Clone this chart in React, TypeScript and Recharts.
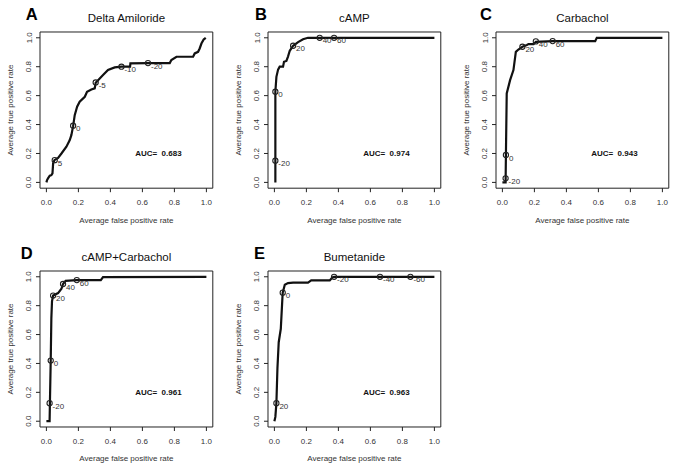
import React from 'react'
import { ComposedChart, Line, XAxis, YAxis, ReferenceArea, LabelList } from 'recharts'

const FONT = '"Liberation Sans", Arial, Helvetica, sans-serif'
const AXIS_TICKS = [0, 0.2, 0.4, 0.6, 0.8, 1.0]
const DOMAIN: [number, number] = [-0.04, 1.04]

// ROC curves (x = false positive rate, y = true positive rate)
const amilorideCurve = [
  { x: 0, y: 0 }, { x: 0.004, y: 0.016 }, { x: 0.01, y: 0.028 }, { x: 0.021, y: 0.046 },
  { x: 0.031, y: 0.05 }, { x: 0.038, y: 0.062 }, { x: 0.042, y: 0.13 }, { x: 0.05, y: 0.154 },
  { x: 0.073, y: 0.17 }, { x: 0.094, y: 0.2 }, { x: 0.125, y: 0.247 }, { x: 0.146, y: 0.293 },
  { x: 0.156, y: 0.327 }, { x: 0.167, y: 0.389 }, { x: 0.177, y: 0.465 }, { x: 0.192, y: 0.523 },
  { x: 0.208, y: 0.558 }, { x: 0.24, y: 0.592 }, { x: 0.254, y: 0.627 }, { x: 0.281, y: 0.643 },
  { x: 0.302, y: 0.65 }, { x: 0.308, y: 0.689 }, { x: 0.323, y: 0.707 }, { x: 0.354, y: 0.742 },
  { x: 0.385, y: 0.777 }, { x: 0.427, y: 0.795 }, { x: 0.469, y: 0.8 }, { x: 0.523, y: 0.8 },
  { x: 0.525, y: 0.823 }, { x: 0.635, y: 0.825 }, { x: 0.771, y: 0.825 }, { x: 0.781, y: 0.846 },
  { x: 0.813, y: 0.869 }, { x: 0.917, y: 0.869 }, { x: 0.927, y: 0.892 }, { x: 0.948, y: 0.903 },
  { x: 0.958, y: 0.926 }, { x: 0.969, y: 0.96 }, { x: 0.983, y: 0.988 }, { x: 0.996, y: 1.0 }
]
const amilorideMarks = [
  { x: 0.052, y: 0.154, t: '5' }, { x: 0.167, y: 0.392, t: '0' }, { x: 0.308, y: 0.691, t: '-5' },
  { x: 0.469, y: 0.8, t: '-10' }, { x: 0.635, y: 0.825, t: '-20' }
]

const campCurve = [
  { x: 0.006, y: 0 }, { x: 0.006, y: 0.627 }, { x: 0.0125, y: 0.73 }, { x: 0.023, y: 0.78 },
  { x: 0.033, y: 0.8 }, { x: 0.054, y: 0.8 }, { x: 0.06, y: 0.834 }, { x: 0.075, y: 0.84 },
  { x: 0.085, y: 0.87 }, { x: 0.096, y: 0.91 }, { x: 0.117, y: 0.945 }, { x: 0.148, y: 0.97 },
  { x: 0.179, y: 0.99 }, { x: 0.21, y: 1.0 }, { x: 1.0, y: 1.0 }
]
const campMarks = [
  { x: 0.006, y: 0.15, t: '-20' }, { x: 0.006, y: 0.627, t: '0' }, { x: 0.117, y: 0.945, t: '20' },
  { x: 0.283, y: 1.0, t: '40' }, { x: 0.373, y: 1.0, t: '60' }
]

const carbacholCurve = [
  { x: 0, y: 0 }, { x: 0.02, y: 0 }, { x: 0.022, y: 0.19 }, { x: 0.027, y: 0.615 },
  { x: 0.048, y: 0.707 }, { x: 0.069, y: 0.777 }, { x: 0.084, y: 0.903 }, { x: 0.1, y: 0.919 },
  { x: 0.125, y: 0.938 }, { x: 0.153, y: 0.95 }, { x: 0.163, y: 0.956 }, { x: 0.195, y: 0.956 },
  { x: 0.209, y: 0.972 }, { x: 0.314, y: 0.977 }, { x: 0.58, y: 0.977 }, { x: 0.59, y: 1.0 },
  { x: 1.0, y: 1.0 }
]
const carbacholMarks = [
  { x: 0.02, y: 0.028, t: '-20' }, { x: 0.022, y: 0.19, t: '0' }, { x: 0.125, y: 0.938, t: '20' },
  { x: 0.209, y: 0.975, t: '40' }, { x: 0.314, y: 0.977, t: '60' }
]

const comboCurve = [
  { x: 0, y: 0 }, { x: 0.02, y: 0 }, { x: 0.022, y: 0.125 }, { x: 0.027, y: 0.42 },
  { x: 0.031, y: 0.714 }, { x: 0.035, y: 0.83 }, { x: 0.042, y: 0.87 }, { x: 0.073, y: 0.887 },
  { x: 0.094, y: 0.917 }, { x: 0.104, y: 0.95 }, { x: 0.12, y: 0.972 }, { x: 0.19, y: 0.977 },
  { x: 0.34, y: 0.977 }, { x: 0.354, y: 0.998 }, { x: 1.0, y: 1.0 }
]
const comboMarks = [
  { x: 0.02, y: 0.125, t: '-20' }, { x: 0.027, y: 0.42, t: '0' }, { x: 0.042, y: 0.87, t: '20' },
  { x: 0.104, y: 0.95, t: '40' }, { x: 0.19, y: 0.977, t: '60' }
]

const bumetanideCurve = [
  { x: 0, y: 0 }, { x: 0.006, y: 0.03 }, { x: 0.0125, y: 0.125 }, { x: 0.019, y: 0.367 },
  { x: 0.027, y: 0.547 }, { x: 0.04, y: 0.64 }, { x: 0.05, y: 0.852 }, { x: 0.052, y: 0.89 },
  { x: 0.065, y: 0.945 }, { x: 0.085, y: 0.956 }, { x: 0.117, y: 0.96 }, { x: 0.21, y: 0.96 },
  { x: 0.23, y: 0.975 }, { x: 0.346, y: 0.975 }, { x: 0.362, y: 0.995 }, { x: 0.373, y: 1.0 },
  { x: 1.0, y: 1.0 }
]
const bumetanideMarks = [
  { x: 0.0125, y: 0.125, t: '20' }, { x: 0.052, y: 0.89, t: '0' }, { x: 0.373, y: 1.0, t: '-20' },
  { x: 0.66, y: 1.0, t: '-40' }, { x: 0.85, y: 1.0, t: '-60' }
]

const panelLetters = ['A', 'B', 'C', 'D', 'E']
const panelTitles = ['Delta Amiloride', 'cAMP', 'Carbachol', 'cAMP+Carbachol', 'Bumetanide']
const aucValues = ['0.683', '0.974', '0.943', '0.961', '0.963']

const LEFT = 40
const TOP = 32
const RIGHT = 8
const BOTTOM = 47
const BOX_W = 172.8

const YTick = (props: any) => {
  const { x, y, payload } = props
  return (
    <text x={x} y={y} transform={`rotate(-90, ${x}, ${y})`} textAnchor="middle"
      fontSize={8} fill="#333" fontFamily={FONT}>
      {Number(payload.value).toFixed(1)}
    </text>
  )
}

const MarkLabel = (props: any) => {
  const { x, y, value } = props
  return (
    <text x={x + 3} y={y + 5.6} fontSize={8} fill="#333" fontFamily={FONT}>{value}</text>
  )
}

const AucLabel = (props: any) => {
  const { x, y, value } = props
  return (
    <text x={x} y={y + 2.9} textAnchor="middle" fontSize={8} fontWeight="bold" fill="#111"
      fontFamily={FONT} style={{ whiteSpace: 'pre' }}>
      {`AUC=  ${value}`}
    </text>
  )
}

type PanelProps = {
  idx: number
  curve: { x: number, y: number }[]
  marks: { x: number, y: number, t: string }[]
  boxLeft: number
  boxTop: number
  boxH: number
  letterX: number
}

function Panel({ idx, curve, marks, boxLeft, boxTop, boxH, letterX }: PanelProps) {
  const w = LEFT + BOX_W + RIGHT
  const h = TOP + boxH + BOTTOM
  const aucSpot = [{ x: 0.7, y: 0.2, t: aucValues[idx] }]
  const cx = LEFT + BOX_W / 2
  return (
    <div style={{ position: 'absolute', left: boxLeft - LEFT, top: boxTop - TOP, width: w, height: h }}>
      <ComposedChart width={w} height={h} margin={{ top: TOP, right: RIGHT, bottom: 0, left: 0 }}>
        <XAxis type="number" dataKey="x" domain={DOMAIN} ticks={AXIS_TICKS} allowDataOverflow
          tickFormatter={(v: number) => v.toFixed(1)} axisLine={false} height={BOTTOM}
          tickSize={4} tickMargin={7} tickLine={{ stroke: '#222' }}
          tick={{ fontSize: 8, fill: '#333', fontFamily: FONT }} />
        <YAxis type="number" dataKey="y" domain={DOMAIN} ticks={AXIS_TICKS} allowDataOverflow
          axisLine={false} width={LEFT} tickSize={4} tickMargin={4.5} tickLine={{ stroke: '#222' }}
          tick={<YTick />} />
        <ReferenceArea x1={DOMAIN[0]} x2={DOMAIN[1]} y1={DOMAIN[0]} y2={DOMAIN[1]}
          fill="none" stroke="#222" strokeWidth={1} ifOverflow="visible" />
        <Line data={curve} dataKey="y" type="linear" stroke="#111" strokeWidth={2.2}
          dot={false} isAnimationActive={false} />
        <Line data={marks} dataKey="y" stroke="none" isAnimationActive={false}
          dot={{ r: 2.6, stroke: '#222', strokeWidth: 1.1, fill: 'none' }} activeDot={false}>
          <LabelList dataKey="t" content={<MarkLabel />} />
        </Line>
        <Line data={aucSpot} dataKey="y" stroke="none" dot={false} activeDot={false} isAnimationActive={false}>
          <LabelList dataKey="t" content={<AucLabel />} />
        </Line>
      </ComposedChart>
      <svg width={w} height={h} style={{ position: 'absolute', left: 0, top: 0, pointerEvents: 'none' }}>
        <text x={letterX} y={19.8} fontSize={16.5} fontWeight="bold" fill="#000" fontFamily={FONT}>
          {panelLetters[idx]}
        </text>
        <text x={cx} y={22.3} textAnchor="middle" fontSize={11.5} fill="#111" fontFamily={FONT}>
          {panelTitles[idx]}
        </text>
        <text x={cx} y={TOP + boxH + 34.3} textAnchor="middle" fontSize={8} fill="#333" fontFamily={FONT}>
          Average false positive rate
        </text>
        <text x={LEFT - 27.3} y={TOP + boxH / 2} transform={`rotate(-90, ${LEFT - 27.3}, ${TOP + boxH / 2})`}
          textAnchor="middle" fontSize={8} fill="#333" fontFamily={FONT}>
          Average true positive rate
        </text>
      </svg>
    </div>
  )
}

export default function App() {
  return (
    <div style={{ position: 'absolute', left: 0, top: 0, width: 675, height: 471, background: '#fff', fontFamily: FONT }}>
      <Panel idx={0} curve={amilorideCurve} marks={amilorideMarks} boxLeft={40.3} boxTop={31.9} boxH={156.2} letterX={25.7} />
      <Panel idx={1} curve={campCurve} marks={campMarks} boxLeft={267.9} boxTop={31.9} boxH={156.2} letterX={27.1} />
      <Panel idx={2} curve={carbacholCurve} marks={carbacholMarks} boxLeft={495.9} boxTop={31.9} boxH={156.2} letterX={24.1} />
      <Panel idx={3} curve={comboCurve} marks={comboMarks} boxLeft={40.3} boxTop={270.9} boxH={156} letterX={20.7} />
      <Panel idx={4} curve={bumetanideCurve} marks={bumetanideMarks} boxLeft={267.9} boxTop={270.9} boxH={156} letterX={26.1} />
    </div>
  )
}
